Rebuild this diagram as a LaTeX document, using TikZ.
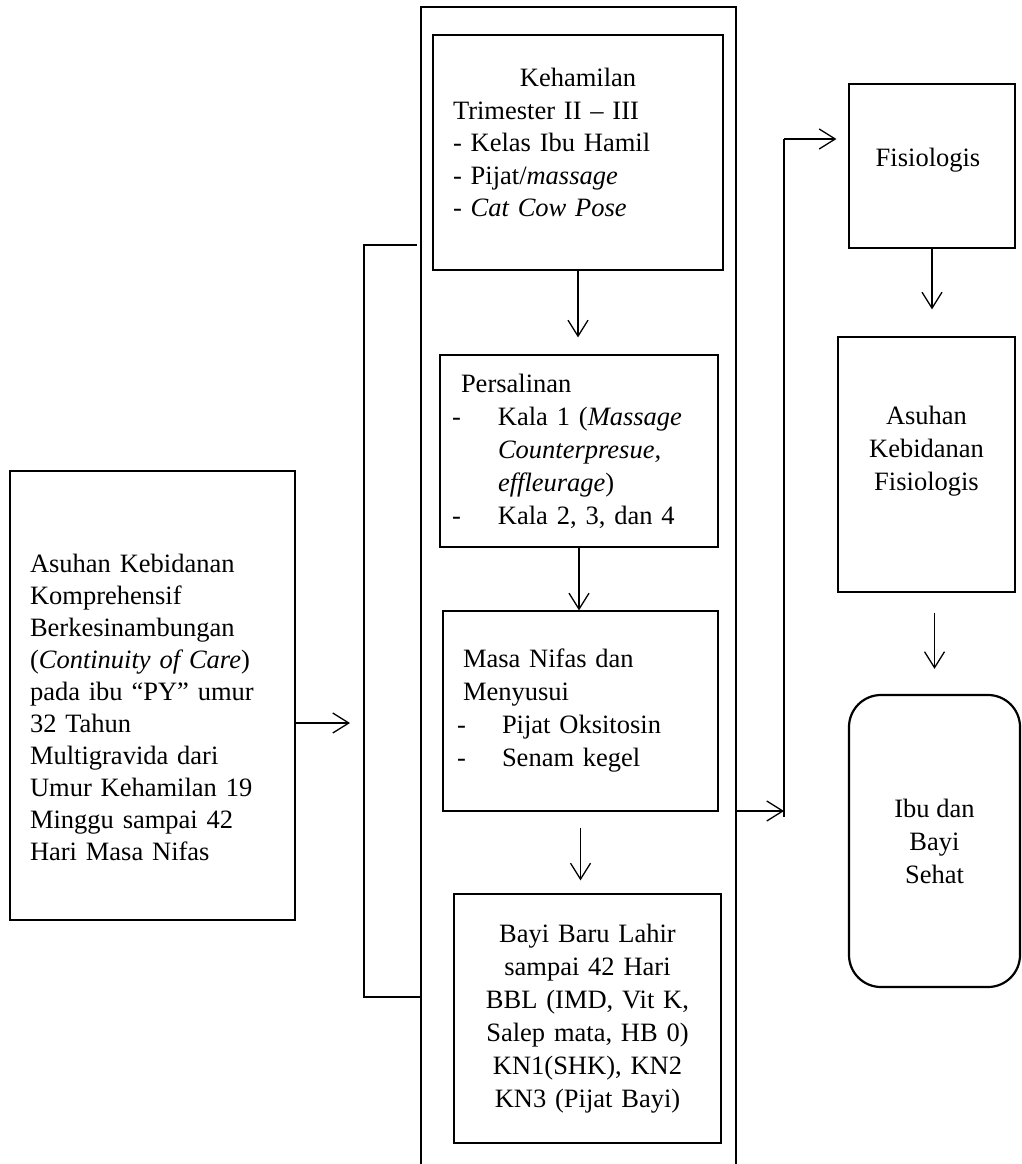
\documentclass[tikz,border=0pt]{standalone}
\usepackage{fontspec}
\setmainfont{Liberation Serif}
\usetikzlibrary{arrows.meta}

\begin{document}
\begin{tikzpicture}[x=1pt, y=-1pt,
	every node/.style={font=\fontsize{26.5}{33}\selectfont},
	every label/.style={inner sep=0pt},
	kotak/.style={rectangle, draw, line width=1.2pt, inner ysep=0pt},
	panah/.style={line width=1.3pt, -{Straight Barb[length=16pt,width=20pt]}},
	tebal/.style={line width=2.2pt}]
	\useasboundingbox (0,0) rectangle (1022,1164);
	% Place nodes
	\node [kotak, minimum width=285pt, minimum height=449pt,
		label={[yshift=-12pt, align=left, text width=245pt, font=\fontsize{26.5}{32}\selectfont]center:Asuhan Kebidanan\\ Komprehensif\\ Berkesinambungan\\ (\textit{Continuity of Care})\\ pada ibu “PY” umur\\ 32 Tahun\\ Multigravida dari\\ Umur Kehamilan 19\\ Minggu sampai 42\\ Hari Masa Nifas}] (asuhan) at (152.5,695.5) {};
	\node [kotak, minimum width=290pt, minimum height=235pt,
		label={[yshift=10pt, align=left, text width=250pt, font=\fontsize{26.5}{32.5}\selectfont]center:\hfil Kehamilan\hfil\\ Trimester II -- III\\ - Kelas Ibu Hamil\\ - Pijat/\textit{massage}\\ - \textit{Cat Cow Pose}}] (hamil) at (578,152.5) {};
	\node [kotak, align=left, text width=254pt, inner xsep=12pt, minimum height=192pt] (salin) at (579,451)
		{\hspace*{9pt}Persalinan\\ \makebox[46pt][l]{-}Kala 1 (\textit{Massage}\\ \hspace*{46pt}\textit{Counterpresue,}\\ \hspace*{46pt}\textit{effleurage})\\ \makebox[46pt][l]{-}Kala 2, 3, dan 4};
	\node [kotak, align=left, text width=247pt, inner xsep=14pt, minimum height=200pt] (nifas) at (580.5,711)
		{\hspace*{6pt}Masa Nifas dan\\ \hspace*{6pt}Menyusui\\ \makebox[45pt][l]{-}Pijat Oksitosin\\ \makebox[45pt][l]{-}Senam kegel};
	\node [kotak, align=center, text width=247pt, inner xsep=10pt, minimum height=249pt] (bayi) at (587.5,1018.5)
		{Bayi Baru Lahir\\ sampai 42 Hari\\ BBL (IMD, Vit K,\\ Salep mata, HB 0)\\ KN1(SHK), KN2\\ KN3 (Pijat Bayi)};
	\node [kotak, minimum width=166pt, minimum height=164pt,
		label={[yshift=6pt, xshift=-4pt]center:Fisiologis}] (fisio) at (932,166) {};
	\node [kotak, minimum width=177pt, minimum height=255pt,
		label={[yshift=13pt, align=center]center:Asuhan\\ Kebidanan\\ Fisiologis}] (akf) at (926.5,464.5) {};
	\node [kotak, tebal, rounded corners=32pt, align=center, minimum width=171pt, minimum height=292pt] (sehat) at (934.5,841)
		{Ibu dan\\ Bayi\\ Sehat};

	\coordinate (masuk) at (350,723);
	\coordinate (keluar) at (736,811);
	\coordinate (naik) at (784,139);
	\coordinate (turun) at (784,817);

	% frame and bracket
	\draw [line width=1.3pt] (421,1170) -- (421,7) -- (736,7) -- (736,1170);
	\draw [tebal] (417,245) -- (364,245) -- (364,997) -- (420,997);
	\draw [tebal] (naik) -- (turun);

	% arrows
	\draw [panah] (asuhan.east |- masuk) -- (masuk);
	\draw [panah, shorten >=17pt] (hamil.south) -- (hamil.south |- salin.north);
	\draw [panah] (salin.south) -- (salin.south |- nifas.north);
	\draw [panah, shorten <=16pt, shorten >=13pt] (nifas.south) -- (nifas.south |- bayi.north);
	\draw [panah] (keluar) -- (keluar -| naik);
	\draw [panah, shorten >=12pt] (naik) -- (naik -| fisio.west);
	\draw [panah, shorten >=27pt] (fisio.south) -- (fisio.south |- akf.north);
	\draw [panah, shorten <=20pt, shorten >=25pt] (akf.south -| sehat.north) -- (sehat.north);
\end{tikzpicture}
\end{document}
